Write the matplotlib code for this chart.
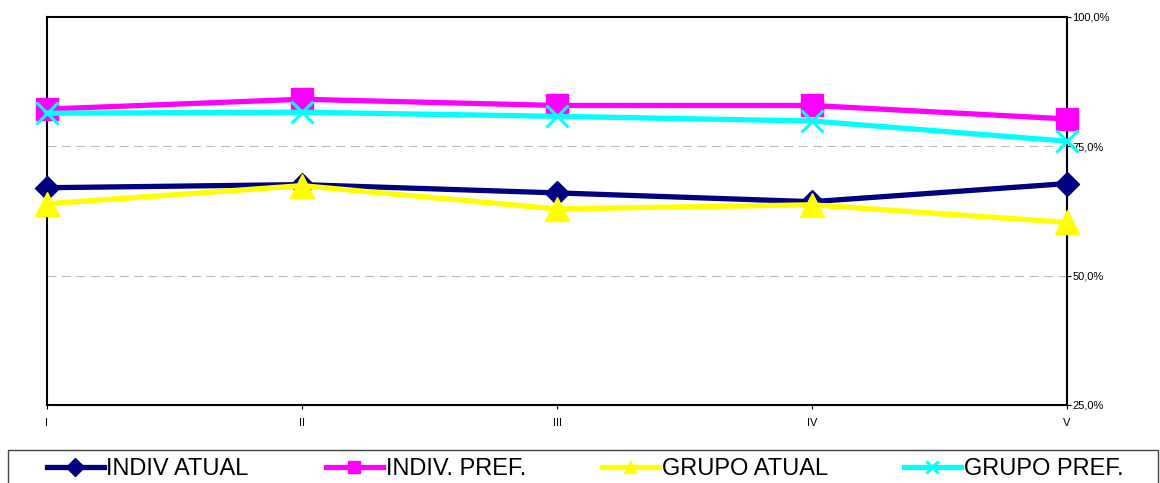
import numpy as np
import matplotlib
matplotlib.use("Agg")
import matplotlib.pyplot as plt
from matplotlib.ticker import FuncFormatter
from matplotlib.patches import Rectangle

plt.rcParams['font.family'] = ['Liberation Sans', 'DejaVu Sans']

# dados
categorias = ['I', 'II', 'III', 'IV', 'V']
indiv_atual = [67.0, 67.6, 66.0, 64.3, 67.8]
indiv_pref = [82.2, 84.1, 82.9, 82.9, 80.3]
grupo_atual = [63.9, 67.4, 62.9, 63.7, 60.3]
grupo_pref = [81.4, 81.6, 80.8, 79.9, 76.0]

W, H = 1160, 483
fig = plt.figure(figsize=(W/100, H/100), dpi=100)
ax = fig.add_axes([47/W, 1-405/H, (1067-47)/W, (405-17)/H])

x = np.arange(len(categorias))

l1, = ax.plot(x, indiv_atual, color='#000080', lw=3.8, marker='D', ms=12,
              label='INDIV ATUAL', zorder=3, clip_on=False)
l2, = ax.plot(x, indiv_pref, color='#FF00FF', lw=3.8, marker='s', ms=16,
              label='INDIV. PREF.', zorder=3, clip_on=False)
l3, = ax.plot(x, grupo_atual, color='#FFFF00', lw=3.8, marker='^', ms=17,
              label='GRUPO ATUAL', zorder=3, clip_on=False)
l4, = ax.plot(x, grupo_pref, color='#00FFFF', lw=3.8, marker='x', ms=16, mew=2.2,
              label='GRUPO PREF.', zorder=3, clip_on=False)

ax.set_xlim(0, 4)
ax.set_ylim(25, 100)
ax.set_xticks(x)
ax.set_xticklabels(categorias, fontsize=8)
ax.set_yticks([25, 50, 75, 100])
ax.yaxis.tick_right()
ax.yaxis.set_major_formatter(FuncFormatter(lambda v, p: f'{v:.1f}%'.replace('.', ',')))
ax.tick_params(axis='y', labelsize=8, length=3, pad=1)
ax.tick_params(axis='x', length=3, pad=6)

for v in [50, 75]:
    ax.axhline(v, color='#BBBBBB', lw=0.8, ls=(0, (8, 5)), zorder=1)

for s in ax.spines.values():
    s.set_color('black')
    s.set_linewidth(1.5)

# caixa da legenda
fig.patches.append(Rectangle((8/W, -0.1), 1150/W, 0.1 + 1 - 450/H,
                             transform=fig.transFigure, fill=False,
                             edgecolor='#444444', lw=1.0))

pos_x = [47, 326, 602, 904]
for px, ln in zip(pos_x, [l1, l2, l3, l4]):
    lg = fig.legend([ln], [ln.get_label()], loc='center left',
                    bbox_to_anchor=(px/W, 1-469/H), frameon=False, fontsize=17,
                    handlelength=2.4, handletextpad=0.12, borderpad=0,
                    borderaxespad=0)
    for h in lg.legend_handles:
        h.set_markersize(9)

fig.savefig('out.png', dpi=100)
